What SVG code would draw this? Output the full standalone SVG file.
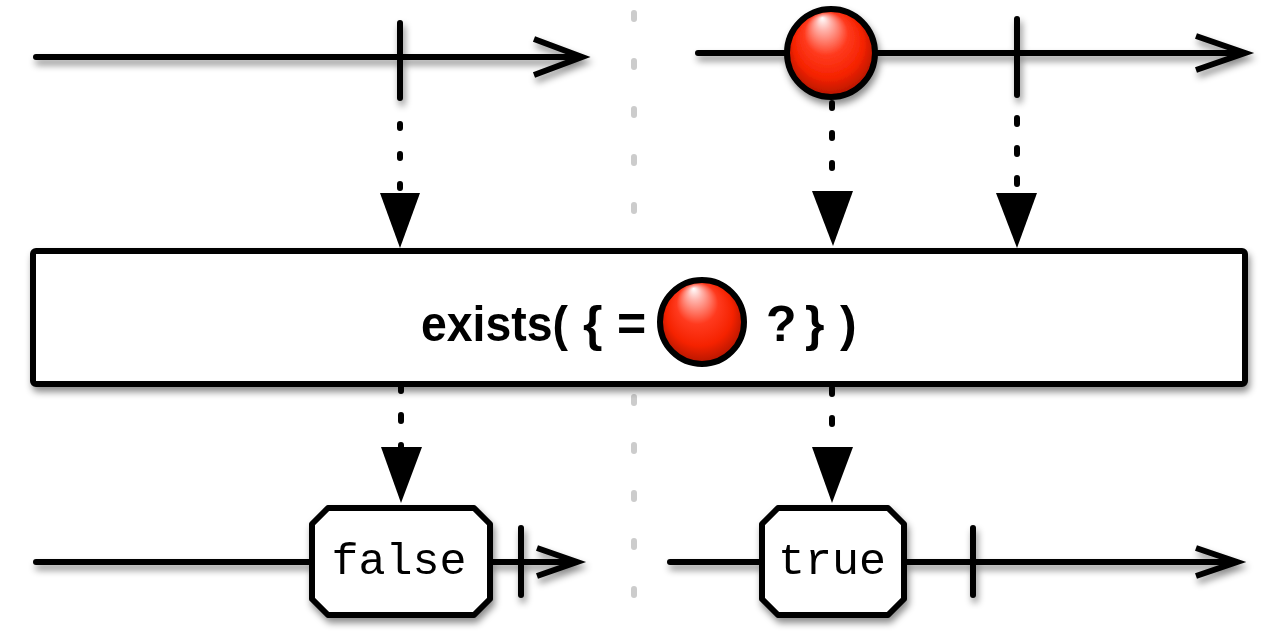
<svg xmlns="http://www.w3.org/2000/svg" width="1280" height="640" viewBox="0 0 1280 640">
  <defs>
    <style>
      .ln { fill: none; stroke: #000; stroke-width: 6; stroke-linecap: round; stroke-linejoin: round; }
      .tick { fill: none; stroke: #000; stroke-width: 6; stroke-linecap: round; }
      .chev { fill: none; stroke: #000; stroke-width: 6; stroke-linecap: butt; stroke-linejoin: miter; }
      .dot { fill: none; stroke: #000; stroke-width: 6; stroke-linecap: round; }
      .head { fill: #000; stroke: none; }
      .sep { fill: none; stroke: #cccccc; stroke-width: 6; stroke-linecap: round; stroke-dasharray: 6 42; }
      .ball { fill: url(#ballGrad); stroke: #000; stroke-width: 6; }
      .val { fill: #fff; stroke: #000; stroke-width: 6; stroke-linejoin: round; }
      .valtxt { font-family: "Liberation Mono", "Courier New", monospace; font-size: 45px; fill: #000; text-anchor: middle; }
      .optxt { font-family: "Liberation Sans", Arial, Helvetica, sans-serif; font-size: 50px; font-weight: bold; fill: #000; }
      .shadow { filter: url(#sh); }
    </style>
    <filter id="sh" x="-10%" y="-20%" width="130%" height="160%">
      <feDropShadow dx="2" dy="5" stdDeviation="3.5" flood-color="#000" flood-opacity="0.45"/>
    </filter>
    <radialGradient id="ballGrad" cx="0.5" cy="0.5" r="0.55" fx="0.4" fy="0.1">
      <stop offset="0" stop-color="#ffffff"/>
      <stop offset="0.15" stop-color="#ffb4ac"/>
      <stop offset="0.45" stop-color="#ff3a1e"/>
      <stop offset="0.72" stop-color="#f52200"/>
      <stop offset="0.9" stop-color="#c01800"/>
      <stop offset="1" stop-color="#7a0c00"/>
    </radialGradient>
  </defs>

  <g id="separator">
    <line class="sep" x1="634" y1="13" x2="634" y2="600"/>
  </g>

  <g id="top-left-timeline" class="shadow">
    <line class="ln" x1="36" y1="57" x2="580" y2="57"/>
    <polyline class="chev" points="534,39 582,57 534,75"/>
    <line class="tick" x1="400" y1="23" x2="400" y2="98"/>
  </g>

  <g id="top-right-timeline" class="shadow">
    <line class="ln" x1="698" y1="53" x2="1243" y2="53"/>
    <polyline class="chev" points="1196,36 1245,53 1196,70"/>
    <line class="tick" x1="1017" y1="19" x2="1017" y2="95"/>
    <circle class="ball" cx="831" cy="53" r="44"/>
  </g>

  <g id="operator-box">
    <rect class="shadow" x="33" y="251" width="1212" height="133" rx="3" ry="3" fill="#fff" stroke="#000" stroke-width="6"/>
    <text class="optxt" y="341"><tspan x="421" textLength="147" lengthAdjust="spacingAndGlyphs">exists(</tspan> <tspan x="583">{</tspan> <tspan x="617">=</tspan></text>
    <circle class="ball" cx="702" cy="322" r="42"/>
    <text class="optxt" y="341"><tspan x="766">?</tspan> <tspan x="805">}</tspan> <tspan x="840">)</tspan></text>
  </g>

  <g id="bottom-left-timeline" class="shadow">
    <line class="ln" x1="36" y1="562" x2="575" y2="562"/>
    <polyline class="chev" points="537,548 577,562 537,576"/>
    <line class="tick" x1="521" y1="528" x2="521" y2="595"/>
    <polygon class="val" points="328,508 474,508 490,524 490,599 474,615 328,615 312,599 312,524"/>
    <text class="valtxt" x="399" y="574">false</text>
  </g>

  <g id="bottom-right-timeline" class="shadow">
    <line class="ln" x1="670" y1="562" x2="1235" y2="562"/>
    <polyline class="chev" points="1196,548 1237,562 1196,576"/>
    <line class="tick" x1="973" y1="528" x2="973" y2="595"/>
    <polygon class="val" points="778,508 888,508 904,524 904,599 888,615 778,615 762,599 762,524"/>
    <text class="valtxt" x="832" y="574">true</text>
  </g>

  <g id="connectors">
    <line class="dot" x1="400" y1="124" x2="400" y2="192" stroke-dasharray="4 26"/>
    <polygon class="head" points="380,193 420,193 400,248"/>
    <line class="dot" x1="832" y1="103" x2="832" y2="190" stroke-dasharray="5 25"/>
    <polygon class="head" points="812,191 853,191 833,246"/>
    <line class="dot" x1="1017" y1="118" x2="1017" y2="192" stroke-dasharray="6 24"/>
    <polygon class="head" points="996,193 1037,193 1017,248"/>
    <line class="dot" x1="401" y1="385" x2="401" y2="447" stroke-dasharray="6 24"/>
    <polygon class="head" points="381,447 422,447 401,503"/>
    <line class="dot" x1="832" y1="388" x2="832" y2="447" stroke-dasharray="6 24"/>
    <polygon class="head" points="812,447 853,447 832,503"/>
  </g>
</svg>
